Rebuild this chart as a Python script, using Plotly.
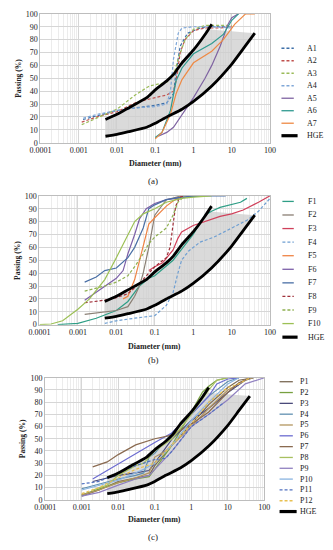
import plotly.graph_objects as go

# ---------------- HGE envelope (same in all panels) ----------------
HGE_UP_D = [0.005, 0.01, 0.02, 0.06, 0.1, 0.2, 0.3, 0.5, 1, 2, 3]
HGE_UP_P = [18, 22, 27, 35, 41, 48, 53, 62, 72, 84, 92]
HGE_LO_D = [0.005, 0.01, 0.02, 0.06, 0.1, 0.2, 0.5, 1, 3, 10, 20, 40]
HGE_LO_P = [5, 6.5, 8.5, 12, 15, 20, 26, 32, 44, 61, 73, 85]
SHADE_TOP_D = [2.3]
SHADE_TOP_P = [88]

# ---------------- Panel (a) ----------------
A1_D = [0.0013, 0.003, 0.01, 0.03, 0.1, 0.2, 0.3, 0.35, 0.45, 0.7, 1.5, 3, 10]
A1_P = [18, 21, 25, 27, 29, 31, 38, 55, 75, 85, 89, 90, 90]
A2_D = [0.0012, 0.003, 0.01, 0.03, 0.1, 0.2, 0.3, 0.35, 0.45, 0.6, 1, 2, 5, 10]
A2_P = [16, 20, 24, 31, 35, 37, 40, 48, 70, 80, 87, 89, 89, 90]
A3_D = [0.0012, 0.003, 0.01, 0.03, 0.07, 0.1, 0.2, 0.3, 0.4, 0.6, 1, 2, 5, 10]
A3_P = [14, 19, 26, 37, 44, 45, 47, 52, 65, 80, 88, 91, 91, 91]
A4_D = [0.0013, 0.003, 0.01, 0.03, 0.1, 0.2, 0.25, 0.3, 0.4, 0.5, 1, 3, 10]
A4_P = [19, 22, 25, 27, 28, 30, 40, 65, 85, 89, 90, 90, 89]
A5_D = [0.12, 0.2, 0.3, 0.5, 1, 2, 3, 5, 8, 10, 15]
A5_P = [5, 8, 12, 22, 35, 50, 60, 75, 92, 97, 100]
A6_D = [0.1, 0.15, 0.25, 0.35, 0.5, 1, 3, 6, 10, 15]
A6_P = [4, 8, 25, 48, 58, 69, 77, 84, 95, 100]
A7_D = [0.1, 0.15, 0.25, 0.35, 0.5, 1, 3, 6, 12, 23, 40]
A7_P = [3, 8, 22, 38, 49, 62, 71, 80, 92, 100, 100]

# ---------------- Panel (b) ----------------
F1_D = [0.0003, 0.001, 0.003, 0.01, 0.02, 0.04, 0.07, 0.1, 0.3, 1, 2, 3, 5, 10, 17, 25]
F1_P = [0, 1, 5, 11, 18, 30, 36, 38, 50, 70, 85, 88, 91, 93, 95, 98]
F2_D = [0.0015, 0.005, 0.01, 0.02, 0.03, 0.04, 0.05, 0.07, 0.1, 0.2, 0.5]
F2_P = [8, 10, 11, 14, 22, 30, 40, 60, 85, 97, 100]
F3_D = [0.07, 0.1, 0.16, 0.25, 0.3, 0.4, 0.5, 1, 2, 5, 10, 20, 50, 100]
F3_P = [42, 45, 48, 55, 58, 67, 72, 77, 80, 84, 86, 89, 95, 100]
F4_D = [0.005, 0.01, 0.03, 0.1, 0.2, 0.3, 0.4, 0.5, 0.75, 1.5, 3.5, 10, 25, 50, 100]
F4_P = [1, 3, 5, 7, 15, 25, 40, 50, 57, 64, 68, 75, 81, 88, 98]
F5_D = [0.015, 0.02, 0.03, 0.04, 0.05, 0.07, 0.1, 0.2, 0.3, 0.5]
F5_P = [20, 22, 35, 50, 62, 78, 83, 92, 96, 100]
F6_D = [0.0015, 0.003, 0.005, 0.01, 0.015, 0.02, 0.03, 0.04, 0.06, 0.1, 0.2, 0.5, 1]
F6_P = [19, 25, 30, 36, 42, 55, 70, 82, 90, 94, 97, 99, 100]
F7_D = [0.0015, 0.003, 0.005, 0.01, 0.02, 0.03, 0.05, 0.07, 0.1, 0.2, 0.5, 2, 7]
F7_P = [33, 37, 42, 44, 52, 60, 75, 90, 93, 97, 99, 100, 100]
F8_D = [0.0015, 0.005, 0.01, 0.02, 0.04, 0.07, 0.1, 0.2, 0.25, 0.3, 0.35, 0.45, 0.6]
F8_P = [17, 19, 21, 24, 32, 40, 45, 52, 60, 78, 92, 99, 100]
F9_D = [0.0015, 0.003, 0.005, 0.01, 0.02, 0.03, 0.05, 0.07, 0.1, 0.2, 0.3, 0.4, 0.6]
F9_P = [26, 28, 30, 33, 38, 45, 55, 63, 68, 75, 85, 95, 100]
F10_D = [0.0001, 0.0002, 0.0004, 0.001, 0.002, 0.005, 0.01, 0.02, 0.03, 0.05, 0.1, 0.2, 0.5, 1, 3]
F10_P = [0, 0.5, 3, 12, 20, 35, 52, 70, 80, 86, 90, 95, 98, 99, 100]

# ---------------- Panel (c) ----------------
P1_D = [0.001, 0.003, 0.01, 0.03, 0.07, 0.1, 0.3, 1, 3, 10, 20, 50]
P1_P = [3, 8, 15, 18, 20, 28, 45, 62, 78, 92, 98, 100]
P2_D = [0.001, 0.003, 0.01, 0.03, 0.07, 0.1, 0.3, 1, 2, 3, 5, 10]
P2_P = [4, 9, 14, 17, 19, 25, 45, 72, 88, 93, 98, 100]
P3_D = [0.002, 0.005, 0.01, 0.03, 0.07, 0.1, 0.3, 1, 3, 10, 30, 50]
P3_P = [15, 18, 20, 22, 24, 30, 50, 65, 75, 88, 98, 100]
P4_D = [0.001, 0.003, 0.01, 0.03, 0.05, 0.07, 0.1, 0.3, 1, 3, 10, 20]
P4_P = [9, 13, 17, 20, 22, 35, 38, 55, 70, 85, 97, 100]
P5_D = [0.001, 0.003, 0.01, 0.03, 0.07, 0.1, 0.2, 0.3, 1, 3, 10, 30, 50]
P5_P = [4, 8, 14, 18, 22, 35, 40, 45, 60, 75, 90, 98, 100]
P6_D = [0.002, 0.005, 0.01, 0.03, 0.1, 0.3, 0.5, 1, 3, 5, 10, 20]
P6_P = [17, 24, 30, 38, 47, 55, 62, 70, 85, 95, 99, 100]
P7_D = [0.002, 0.005, 0.01, 0.03, 0.1, 0.2, 0.3, 1, 3, 10, 20, 40]
P7_P = [27, 31, 37, 45, 50, 52, 53, 62, 72, 88, 96, 100]
P8_D = [0.002, 0.005, 0.01, 0.02, 0.03, 0.05, 0.1, 0.3, 1, 3, 5, 10]
P8_P = [8, 12, 20, 25, 28, 30, 40, 50, 70, 90, 98, 100]
P9_D = [0.001, 0.003, 0.01, 0.03, 0.07, 0.1, 0.3, 1, 3, 10, 30, 100]
P9_P = [3, 6, 12, 17, 20, 25, 40, 60, 70, 82, 95, 100]
P10_D = [0.001, 0.003, 0.01, 0.03, 0.05, 0.1, 0.3, 1, 3, 10, 20]
P10_P = [8, 12, 16, 22, 25, 30, 45, 65, 80, 95, 100]
P11_D = [0.001, 0.003, 0.01, 0.03, 0.05, 0.1, 0.2, 0.3, 1, 3, 8]
P11_P = [13, 15, 22, 28, 30, 33, 34, 40, 60, 70, 80]
P12_D = [0.001, 0.003, 0.01, 0.03, 0.1, 0.3, 1, 3, 10, 20, 40]
P12_P = [5, 10, 18, 25, 30, 45, 62, 80, 92, 95, 100]

X_TICKS = [0.0001, 0.001, 0.01, 0.1, 1, 10, 100]
X_TICKTEXT = ["0.0001", "0.001", "0.01", "0.1", "1", "10", "100"]

FONT = "Liberation Serif"
W, H = 333, 550
DASH = "3px,2px"

# (name, D, P, color, dashed)
PANEL_A = [
    ("A1", A1_D, A1_P, "#3d6fa8", True),
    ("A2", A2_D, A2_P, "#c0504d", True),
    ("A3", A3_D, A3_P, "#9bbb59", True),
    ("A4", A4_D, A4_P, "#7fa7d8", True),
    ("A5", A5_D, A5_P, "#7f64a2", False),
    ("A6", A6_D, A6_P, "#2f9a90", False),
    ("A7", A7_D, A7_P, "#ee8a45", False),
]
PANEL_B = [
    ("F1", F1_D, F1_P, "#2f9e86", False),
    ("F2", F2_D, F2_P, "#8a7f74", False),
    ("F3", F3_D, F3_P, "#d0405a", False),
    ("F4", F4_D, F4_P, "#6f9fd2", True),
    ("F5", F5_D, F5_P, "#ef8445", False),
    ("F6", F6_D, F6_P, "#7c5fa8", False),
    ("F7", F7_D, F7_P, "#4a6fa5", False),
    ("F8", F8_D, F8_P, "#a0303a", True),
    ("F9", F9_D, F9_P, "#8fb050", True),
    ("F10", F10_D, F10_P, "#9cc055", False),
]
PANEL_C = [
    ("P1", P1_D, P1_P, "#7b6a55", False),
    ("P2", P2_D, P2_P, "#77a040", False),
    ("P3", P3_D, P3_P, "#4a4a7a", False),
    ("P4", P4_D, P4_P, "#6090b0", False),
    ("P5", P5_D, P5_P, "#b3955f", False),
    ("P6", P6_D, P6_P, "#6c6cd0", False),
    ("P7", P7_D, P7_P, "#8a6a50", False),
    ("P8", P8_D, P8_P, "#a8c060", False),
    ("P9", P9_D, P9_P, "#9080c0", False),
    ("P10", P10_D, P10_P, "#8ab4e0", False),
    ("P11", P11_D, P11_P, "#5070c0", True),
    ("P12", P12_D, P12_P, "#e8c050", True),
]

# panel geometry in pixels: (x0, x1, ytop, ybottom)
GEOM = [
    (31, 273, 10, 141),
    (30, 273, 195, 326),
    (36, 267, 380, 504),
]
# legend: (first item y, step, line x0, line x1, text x)
LEG = [
    (45, 12.7, 285, 298, 310),
    (200.7, 13.8, 286, 298, 311),
    (384, 11.0, 283, 297, 302),
]
XTITLE_Y = [162, 348, 524]
YTITLE_X = [8, 7, 12]
CAPTION = [("(a)", 180), ("(b)", 362), ("(c)", 542)]


def px(x):
    return x / W


def py(y):
    return 1 - y / H


fig = go.Figure()
shapes = []
annotations = []

shade_x = [d for d in HGE_UP_D if d <= 2] + SHADE_TOP_D + HGE_LO_D[::-1]
shade_y = [p for d, p in zip(HGE_UP_D, HGE_UP_P) if d <= 2] + SHADE_TOP_P + HGE_LO_P[::-1]

minor_vals = [m * 10 ** k for k in range(-4, 2) for m in range(2, 10)]

for i, panel in enumerate([PANEL_A, PANEL_B, PANEL_C]):
    sfx = "" if i == 0 else str(i + 1)
    xa, ya = "x" + sfx, "y" + sfx
    # grey envelope
    fig.add_trace(go.Scatter(x=shade_x, y=shade_y, xaxis=xa, yaxis=ya, mode="lines",
                             fill="toself", fillcolor="rgba(205,205,205,0.75)",
                             line=dict(width=0), hoverinfo="skip", showlegend=False))
    for name, d, p, col, dashed in panel:
        fig.add_trace(go.Scatter(x=d, y=p, xaxis=xa, yaxis=ya, mode="lines", name=name,
                                 line=dict(color=col, width=1.2, dash=DASH if dashed else "solid"),
                                 showlegend=False))
    for dd, pp in [(HGE_UP_D, HGE_UP_P), (HGE_LO_D, HGE_LO_P)]:
        fig.add_trace(go.Scatter(x=dd, y=pp, xaxis=xa, yaxis=ya, mode="lines", name="HGE",
                                 line=dict(color="black", width=2.8, shape="spline", smoothing=0.5),
                                 showlegend=False))

    x0, x1, yt, yb = GEOM[i]
    common_x = dict(type="log", range=[-4, 2], domain=[px(x0), px(x1)], anchor=ya,
                    tickmode="array", tickvals=X_TICKS, ticktext=X_TICKTEXT,
                    showgrid=True, gridcolor="#d6d6d6", gridwidth=1,
                    minor=dict(tickmode="array", tickvals=minor_vals, showgrid=True,
                               gridcolor="#ececec", gridwidth=0.6, ticks=""),
                    showline=True, linecolor="#bdbdbd", linewidth=1, mirror=True,
                    zeroline=False, ticks="", tickfont=dict(size=8, color="#222", family=FONT))
    common_y = dict(range=[0, 100], domain=[py(yb), py(yt)], anchor=xa,
                    tickmode="linear", tick0=0, dtick=10,
                    showgrid=True, gridcolor="#d6d6d6", gridwidth=1,
                    showline=True, linecolor="#bdbdbd", linewidth=1, mirror=True,
                    zeroline=False, ticks="", tickfont=dict(size=8, color="#222", family=FONT))
    fig.update_layout(**{"xaxis" + sfx: common_x, "yaxis" + sfx: common_y})

    # manual legend
    ly0, step, lx0, lx1, tx = LEG[i]
    entries = [(n, c, dsh, 1.3, lx1) for n, _, _, c, dsh in panel] + [("HGE", "black", False, 3.2, lx1 + 4)]
    for k, (n, c, dsh, wdt, lend) in enumerate(entries):
        yy = ly0 + k * step
        shapes.append(dict(type="line", xref="paper", yref="paper",
                           x0=px(lx0), x1=px(lend), y0=py(yy), y1=py(yy),
                           line=dict(color=c, width=wdt, dash=DASH if dsh else "solid")))
        annotations.append(dict(text=n, xref="paper", yref="paper", x=px(tx), y=py(yy),
                                xanchor="left", yanchor="middle", showarrow=False,
                                font=dict(size=8, color="#222", family=FONT)))
    # titles
    annotations.append(dict(text="<b>Diameter (mm)</b>", xref="paper", yref="paper",
                            x=px((x0 + x1) / 2), y=py(XTITLE_Y[i]), xanchor="center",
                            yanchor="middle", showarrow=False,
                            font=dict(size=8, color="#222", family=FONT)))
    annotations.append(dict(text="<b>Passing (%)</b>", xref="paper", yref="paper",
                            x=px(YTITLE_X[i]), y=py((yt + yb) / 2), xanchor="center",
                            yanchor="middle", textangle=-90, showarrow=False,
                            font=dict(size=7.5, color="#222", family=FONT)))
    cap, cy = CAPTION[i]
    annotations.append(dict(text=cap, xref="paper", yref="paper", x=px(150), y=py(cy),
                            xanchor="center", yanchor="middle", showarrow=False,
                            font=dict(size=9, color="#222", family=FONT)))

fig.update_layout(width=W, height=H, autosize=False,
                  margin=dict(l=0, r=0, t=0, b=0),
                  paper_bgcolor="white", plot_bgcolor="white",
                  showlegend=False, shapes=shapes, annotations=annotations,
                  font=dict(family=FONT))

fig.write_html("out.html", config={"displayModeBar": False},
               post_script="document.body.style.margin='0';document.body.style.overflow='hidden';")
